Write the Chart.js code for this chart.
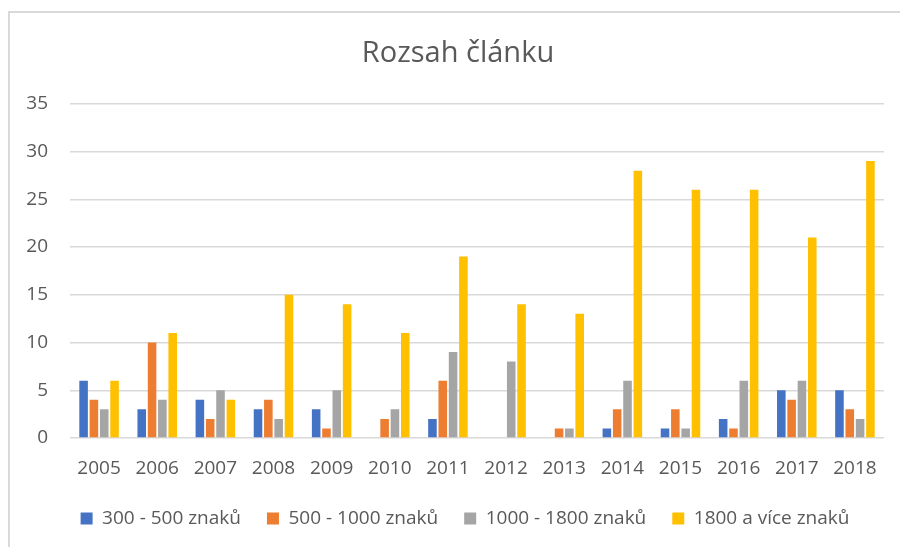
<!DOCTYPE html>
<html>
<head>
<meta charset="utf-8">
<script src="https://cdn.jsdelivr.net/npm/chart.js@4.4.1/dist/chart.umd.min.js"></script>
<style>
  html, body { margin: 0; padding: 0; background: #ffffff; }
  #wrap { position: relative; width: 900px; height: 547px; }
  #frame { position: absolute; left: 8px; top: 11px; width: 900px; height: 560px;
           border-left: 2px solid #d9d9d9; border-top: 2px solid #d9d9d9; pointer-events: none; }
  canvas { position: absolute; left: 0; top: 0; }
</style>
</head>
<body>
<div id="wrap">
  <canvas id="c" width="900" height="547"></canvas>
  <div id="frame"></div>
</div>
<script>
const titleText = "Rozsah článku";
const years = ["2005","2006","2007","2008","2009","2010","2011","2012","2013","2014","2015","2016","2017","2018"];
const seriesNames = ["300 - 500 znaků", "500 - 1000 znaků", "1000 - 1800 znaků", "1800 a více znaků"];
const s300_500   = [6, 3, 4, 3, 3, 0, 2, 0, 0, 1, 1, 2, 5, 5];
const s500_1000  = [4,10, 2, 4, 1, 2, 6, 0, 1, 3, 3, 1, 4, 3];
const s1000_1800 = [3, 4, 5, 2, 5, 3, 9, 8, 1, 6, 1, 6, 6, 2];
const s1800plus  = [6,11, 4,15,14,11,19,14,13,28,26,26,21,29];
const yTicks = [0, 5, 10, 15, 20, 25, 30, 35];
const colors = ["#4472C4", "#ED7D31", "#A5A5A5", "#FFC000"];

const textColor = "#595959";
const fontFam = "'Open Sans', 'Liberation Sans', sans-serif";

const allSeries = [s300_500, s500_1000, s1000_1800, s1800plus];
const datasets = allSeries.map((d, i) => ({
  label: seriesNames[i],
  data: d,
  backgroundColor: colors[i],
  borderWidth: 0,
  categoryPercentage: 0.71,
  barPercentage: 0.83
}));

// shift title and legend horizontally to match the reference centring
const shiftBlocks = {
  id: 'shiftBlocks',
  afterLayout(chart) {
    const t = chart.titleBlock;
    if (t) { t.left += 12; t.right += 12; }
    const l = chart.legend;
    if (l) { l.left += 19; l.right += 19; if (l.adjustHitBoxes) l.adjustHitBoxes(); }
  }
};

new Chart(document.getElementById('c'), {
  type: 'bar',
  data: { labels: years, datasets },
  plugins: [shiftBlocks],
  options: {
    responsive: false,
    animation: false,
    devicePixelRatio: 1,
    layout: { padding: { left: 8, right: 16, top: 12, bottom: 9 } },
    plugins: {
      title: {
        display: true,
        text: titleText,
        color: textColor,
        font: { family: fontFam, size: 29, weight: 'normal' },
        padding: { top: 24, bottom: 33 }
      },
      legend: {
        position: 'bottom',
        labels: {
          color: textColor,
          font: { family: fontFam, size: 19 },
          boxWidth: 12,
          boxHeight: 12,
          padding: 26
        }
      },
      tooltip: { enabled: false }
    },
    scales: {
      x: {
        grid: { display: false, drawTicks: false },
        border: { display: false },
        ticks: { color: textColor, font: { family: fontFam, size: 19 }, padding: 19, maxRotation: 0 },
        afterFit: (s) => { s.height = 45; }
      },
      y: {
        min: 0,
        max: 35,
        afterBuildTicks: (s) => { s.ticks = yTicks.map(v => ({ value: v })); },
        grid: { color: "#d9d9d9", lineWidth: 1.5, drawTicks: false },
        border: { display: false },
        ticks: { color: textColor, font: { family: fontFam, size: 19 }, padding: 22 },
        afterFit: (s) => { s.width = 62; }
      }
    }
  }
});
</script>
</body>
</html>
